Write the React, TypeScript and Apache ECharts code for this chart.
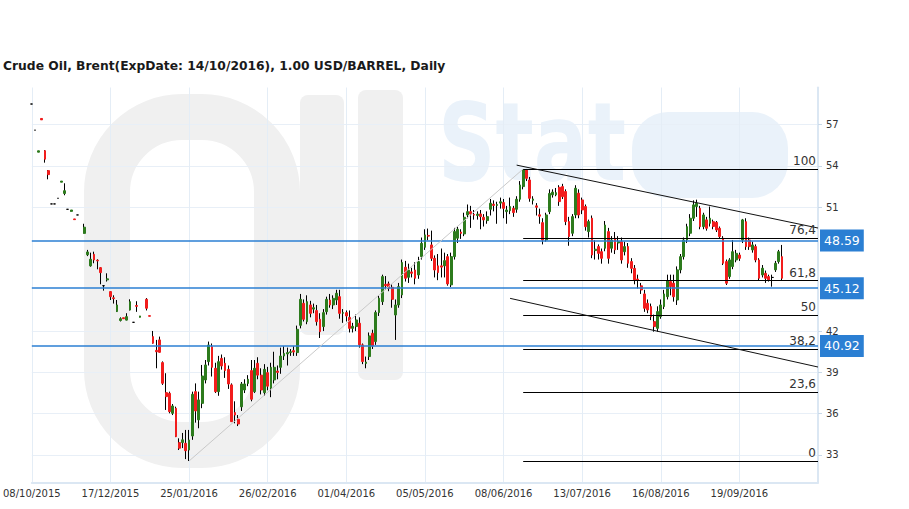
import React, { useEffect, useRef } from 'react';
import * as echarts from 'echarts';

const TITLE = 'Crude Oil, Brent(ExpDate: 14/10/2016), 1.00 USD/BARREL, Daily';
const TICK_LABELS = ['08/10/2015', '17/12/2015', '25/01/2016', '26/02/2016', '01/04/2016', '05/05/2016', '08/06/2016', '13/07/2016', '16/08/2016', '19/09/2016'];
const LABEL_EVERY = 24;
const SLOT_COUNT = 241;
// 45 and 48 sit under the level tags in the reference, so they are not shown
const Y_LABELS = [33, 36, 39, 42, 51, 54, 57];

// [open, close, low, high]; null = no trade that day
const CANDLES: ([number, number, number, number] | null)[] = [
  [58.5, 58.5, 58.5, 58.5], [56.6, 56.6, 56.6, 56.6], [55.0, 55.1, 55.0, 55.1], [57.45, 57.35, 57.35, 57.45], [55.11, 54.49, 54.24, 55.15],
  [53.66, 53.37, 53.03, 53.7], [51.24, 51.24, 51.24, 51.24], [51.24, 51.24, 51.24, 51.24], [51.65, 51.65, 51.65, 51.65], [52.82, 52.9, 52.82, 52.9],
  // 10
  [52.0, 52.2, 51.87, 52.74], [50.85, 50.85, 50.85, 50.85], [50.7, 50.8, 50.7, 50.8], [50.15, 50.1, 50.1, 50.15], [50.44, 50.44, 50.44, 50.44],
  null, [49.1, 49.55, 49.1, 49.8], [47.55, 47.75, 47.45, 47.9], [46.74, 47.22, 46.68, 47.7], [47.58, 47.17, 46.93, 47.77],
  // 20
  [47.15, 47.1, 46.49, 47.22], [46.61, 46.25, 45.4, 46.65], [45.3, 45.3, 44.94, 45.35], [45.72, 45.8, 45.6, 46.2], [44.87, 44.5, 44.26, 44.9],
  [44.42, 44.36, 44.0, 44.6], [43.42, 43.9, 43.4, 44.26], [42.77, 42.9, 42.7, 43.0], [42.97, 42.9, 42.88, 42.97], [42.8, 43.05, 42.78, 43.3],
  // 30
  [43.53, 44.14, 43.5, 44.31], [42.64, 42.64, 42.64, 42.64], [43.86, 43.8, 43.4, 44.17], [43.0, 43.1, 43.0, 43.1], null,
  [44.31, 43.66, 43.5, 44.4], [43.12, 43.08, 43.08, 43.12], [41.6, 41.12, 41.09, 42.01], [40.6, 40.5, 39.3, 41.36], [41.36, 40.46, 40.44, 41.6],
  // 40
  [39.71, 38.21, 38.09, 39.8], [37.53, 37.24, 36.27, 38.94], [37.48, 36.15, 36.03, 37.6], [36.03, 36.56, 35.9, 36.7], [36.39, 34.33, 34.3, 36.51],
  [33.9, 33.49, 33.36, 34.21], [33.9, 34.1, 33.5, 34.6], [33.85, 33.31, 32.7, 34.82], [33.36, 34.09, 32.56, 34.82], [34.38, 37.41, 34.1, 37.6],
  // 50
  [37.6, 36.2, 35.35, 38.2], [35.55, 37.0, 34.94, 37.6], [36.75, 38.74, 36.4, 39.54], [38.45, 39.54, 38.2, 39.9], [39.78, 40.99, 39.5, 41.24],
  [40.87, 39.37, 38.7, 41.1], [39.3, 37.6, 37.5, 39.7], [37.6, 39.78, 37.3, 40.2], [40.02, 39.47, 39.2, 40.3], [39.66, 39.13, 38.6, 40.1],
  // 60
  [39.22, 38.16, 37.8, 39.5], [38.09, 35.42, 35.4, 38.2], [36.08, 35.9, 35.3, 36.9], [35.6, 35.25, 35.1, 35.9], [36.5, 38.16, 36.2, 38.3],
  [37.72, 38.16, 37.5, 38.5], [38.2, 38.5, 38.0, 38.8], [39.13, 37.05, 36.9, 39.9], [37.6, 39.3, 37.5, 39.9], [39.66, 38.8, 38.5, 40.1],
  // 70
  [38.8, 37.72, 37.4, 39.3], [37.53, 39.22, 37.3, 39.6], [38.98, 38.0, 37.7, 39.4], [37.84, 39.37, 37.2, 39.7], [38.45, 39.37, 38.2, 40.5],
  [39.1, 39.0, 38.5, 39.5], [39.37, 40.19, 38.9, 40.8], [40.19, 40.38, 39.9, 40.9], [40.34, 40.44, 39.5, 40.8], [40.45, 40.5, 40.2, 40.7],
  // 80
  [40.58, 40.48, 40.2, 40.9], [40.44, 42.13, 40.2, 42.4], [42.42, 44.31, 42.2, 44.7], [44.02, 42.86, 42.7, 44.3], [42.69, 44.14, 42.5, 44.6],
  [43.9, 43.29, 43.0, 44.2], [43.6, 43.7, 43.3, 44.0], [43.49, 42.69, 42.4, 43.9], [42.86, 41.96, 41.5, 43.3], [42.33, 43.34, 42.0, 43.6],
  // 90
  [43.41, 44.31, 43.2, 44.5], [44.26, 43.9, 43.7, 44.7], [43.9, 44.38, 43.6, 44.6], [44.26, 44.75, 43.9, 45.0], [44.5, 43.29, 42.9, 45.0],
  [43.3, 43.34, 42.6, 43.6], [43.34, 43.1, 42.7, 43.5], [43.0, 42.2, 41.9, 43.5], [42.2, 42.35, 41.9, 42.6], [42.33, 42.81, 42.0, 43.2],
  // 100
  [42.57, 41.0, 40.8, 43.0], [41.0, 39.79, 39.6, 41.1], [39.65, 39.75, 39.3, 40.15], [40.15, 41.65, 39.9, 41.9], [41.84, 40.92, 40.7, 42.1],
  [41.24, 43.35, 41.0, 43.5], [43.35, 44.39, 43.1, 44.6], [44.14, 45.96, 43.9, 46.1], [45.4, 45.3, 45.0, 46.0], [45.43, 45.11, 44.9, 45.6],
  // 110
  [45.18, 44.31, 43.7, 45.4], [43.17, 43.9, 41.36, 44.3], [43.9, 45.23, 43.7, 45.5], [44.63, 46.98, 44.4, 47.2], [46.64, 45.84, 45.6, 47.1],
  [45.91, 46.44, 45.5, 46.9], [46.3, 46.2, 45.9, 46.6], [46.44, 45.84, 45.4, 47.0], [46.08, 47.05, 45.8, 47.4], [47.41, 48.38, 47.2, 48.8],
  // 120
  [48.09, 48.99, 47.9, 49.4], [48.95, 48.9, 48.6, 49.45], [48.26, 47.29, 47.1, 49.3], [47.29, 46.44, 45.9, 47.5], [46.74, 46.25, 45.7, 47.6],
  [46.74, 46.65, 45.9, 48.0], [46.74, 47.12, 45.9, 47.7], [47.41, 45.43, 45.3, 47.6], [45.36, 47.41, 45.2, 47.7], [47.41, 49.23, 47.2, 49.5],
  // 130
  [48.75, 49.4, 48.4, 49.6], [49.2, 49.1, 48.7, 49.4], [49.06, 50.27, 48.9, 50.6], [50.44, 50.68, 50.2, 51.2], [50.68, 50.51, 49.5, 51.1],
  [50.47, 50.43, 50.1, 50.8], [50.4, 50.5, 50.1, 50.7], [50.51, 50.32, 49.4, 50.8], [50.27, 50.08, 49.6, 50.5], [50.03, 50.32, 49.8, 50.7],
  // 140
  [50.85, 51.29, 50.4, 51.6], [51.22, 51.13, 50.7, 51.5], [51.13, 51.2, 49.8, 51.4], [51.3, 51.4, 50.9, 51.7], [51.34, 50.92, 50.2, 51.6],
  [50.68, 50.8, 49.8, 51.1], [50.75, 51.05, 50.5, 51.7], [50.92, 50.61, 50.3, 51.1], [50.85, 51.58, 50.6, 51.8], [51.58, 52.62, 51.4, 52.9],
  // 150
  [52.5, 53.71, 52.3, 53.75], [53.7, 53.1, 52.9, 53.78], [52.98, 51.65, 51.4, 53.2], [51.5, 51.6, 51.2, 51.8], [51.1, 51.0, 50.4, 51.3],
  [50.45, 50.35, 49.8, 50.9], [49.88, 48.62, 48.3, 50.2], [48.62, 50.44, 48.5, 50.6], [50.68, 52.0, 50.5, 52.3], [51.9, 52.1, 51.7, 52.3],
  // 160
  [51.9, 52.06, 51.8, 52.4], [52.45, 51.41, 51.1, 52.6], [52.5, 51.77, 51.6, 52.7], [52.14, 49.96, 49.7, 52.3], [49.96, 48.87, 48.2, 50.3],
  [49.11, 50.32, 48.9, 50.5], [50.44, 52.38, 50.2, 52.6], [52.02, 50.44, 50.2, 52.3], [51.53, 50.8, 50.5, 51.7], [51.05, 49.59, 49.3, 51.2],
  // 170
  [49.23, 49.96, 48.8, 50.1], [50.2, 47.53, 47.3, 50.4], [47.85, 47.95, 47.2, 48.6], [48.14, 47.65, 47.2, 48.3], [47.77, 47.29, 46.9, 48.0],
  [48.02, 49.71, 47.8, 50.0], [49.23, 47.29, 46.9, 49.5], [48.02, 48.62, 47.7, 48.9], [48.75, 47.9, 47.6, 49.2], [48.4, 48.5, 47.9, 48.9],
  // 180
  [48.5, 47.17, 46.9, 48.8], [47.77, 48.14, 47.5, 48.5], [48.14, 46.93, 46.6, 48.4], [47.05, 46.56, 46.2, 47.3], [46.56, 45.72, 45.4, 46.8],
  [45.78, 45.68, 45.1, 46.1], [45.29, 44.99, 44.7, 45.5], [44.7, 43.66, 43.4, 45.0], [44.02, 43.54, 43.3, 44.3], [43.78, 43.05, 42.8, 44.0],
  // 190
  [42.69, 42.33, 41.96, 43.2], [42.2, 43.42, 41.96, 43.8], [43.05, 43.9, 42.9, 44.3], [43.78, 44.7, 43.6, 45.0], [44.5, 45.67, 44.3, 46.1],
  [45.6, 45.23, 44.6, 46.1], [45.48, 44.5, 44.14, 46.1], [44.26, 46.45, 43.9, 46.7], [46.45, 47.41, 46.2, 47.6], [47.41, 48.62, 47.2, 48.8],
  // 200
  [48.62, 49.59, 48.4, 49.8], [49.11, 50.2, 48.9, 50.5], [50.2, 51.17, 50.0, 51.5], [51.05, 51.29, 50.3, 51.55], [50.92, 49.59, 49.4, 51.1],
  [49.59, 50.44, 49.4, 50.6], [50.08, 49.47, 49.3, 50.3], [49.83, 50.2, 49.6, 51.05], [49.95, 49.6, 49.4, 50.1], [49.9, 49.35, 49.2, 50.0],
  // 210
  [49.47, 48.87, 48.7, 49.6], [48.75, 46.93, 46.8, 48.9], [47.05, 45.48, 45.35, 47.2], [45.96, 47.17, 45.8, 47.3], [46.69, 47.77, 46.5, 48.62],
  [47.17, 47.65, 47.0, 47.9], [47.53, 47.29, 47.1, 47.7], [48.62, 50.08, 48.4, 50.15], [49.95, 48.14, 47.9, 50.2], [48.62, 48.14, 47.9, 48.8],
  // 220
  [47.9, 48.26, 47.7, 48.5], [48.14, 47.17, 47.0, 48.3], [47.17, 45.84, 45.7, 47.3], [46.08, 46.57, 45.9, 46.8], [46.2, 45.84, 45.5, 46.4],
  [45.96, 45.72, 45.6, 46.1], [45.9, 45.9, 45.23, 46.1], [46.45, 46.93, 46.3, 47.1], [47.05, 47.77, 46.9, 47.9], [47.41, 45.84, 45.7, 48.26],
];

const H_LEVELS = [48.59, 45.12, 40.92];
const FIB_HIGH = 53.78;
const FIB_LOW = 32.56;
const FIB_RATIOS = [100, 76.4, 61.8, 50, 38.2, 23.6, 0];
const FIB_START = 150;
const FIB_END = 240;
const SWING_LOW_INDEX = 48;
const CHANNEL_TOP: [number, number][] = [[148, 54.06], [240, 49.49]];
const CHANNEL_BOTTOM: [number, number][] = [[146, 44.38], [240, 39.39]];

const UP = '#2d7b1d';
const DOWN = '#f21d1d';
const BLUE = '#2b7fd3';
const FONT = 'DejaVu Sans';

export default function App() {
  const ref = useRef<HTMLDivElement>(null);

  useEffect(() => {
    const el = ref.current;
    if (!el) return;
    const chart = echarts.init(el, null, { renderer: 'svg' });
    const categories = Array.from({ length: SLOT_COUNT }, (_, i) => String(i));
    const empty = ['-', '-', '-', '-'];
    const wickData = CANDLES.map((c) => (c ? [c[0], c[1], c[2], c[3]] : empty));
    const bodyData = CANDLES.map((c) =>
      c ? [c[0], c[1], Math.min(c[0], c[1]), Math.max(c[0], c[1])] : empty
    );

    const blueLines = H_LEVELS.map((v) => ({
      yAxis: v,
      lineStyle: { color: BLUE, width: 1.5, type: 'solid' },
      label: {
        show: true,
        position: 'end',
        distance: 2,
        formatter: v.toFixed(2),
        backgroundColor: BLUE,
        color: '#fff',
        fontFamily: FONT,
        fontSize: 12.5,
        lineHeight: 14,
        padding: [4, 4, 4, 4],
      },
    }));

    const fibLines = FIB_RATIOS.map((r) => {
      const v = FIB_LOW + ((FIB_HIGH - FIB_LOW) * r) / 100;
      return [
        {
          coord: [FIB_START, v],
          lineStyle: { color: '#000', width: 1, type: 'solid' },
          label: {
            show: true,
            position: 'insideEndTop',
            distance: [2, 2],
            formatter: String(r).replace('.', ','),
            color: '#333',
            fontFamily: FONT,
            fontSize: 12,
          },
        },
        { coord: [FIB_END, v] },
      ];
    });

    const trendLines = [CHANNEL_TOP, CHANNEL_BOTTOM].map((pts) => [
      { coord: pts[0], lineStyle: { color: '#111', width: 1, type: 'solid' }, label: { show: false } },
      { coord: pts[1] },
    ]);
    const swingLine = [
      { coord: [SWING_LOW_INDEX, FIB_LOW], lineStyle: { color: '#c9c9c9', width: 1, type: 'solid' }, label: { show: false } },
      { coord: [FIB_START, FIB_HIGH] },
    ];

    const wm = '#f0f0f0';
    const wmBlue = '#eaf2fa';

    chart.setOption({
      animation: false,
      backgroundColor: '#fff',
      title: {
        text: TITLE,
        left: 3,
        top: 60,
        padding: 0,
        textStyle: { fontFamily: FONT, fontSize: 12.3, fontWeight: 'bold', color: '#1a1a1a' },
      },
      graphic: [
        { type: 'rect', z: -10, shape: { x: 107, y: 117, width: 170, height: 328, r: 75 }, style: { fill: 'none', stroke: wm, lineWidth: 46 } },
        { type: 'rect', z: -10, shape: { x: 300, y: 95, width: 44, height: 240, r: 8 }, style: { fill: wm } },
        { type: 'rect', z: -10, shape: { x: 358, y: 90, width: 45, height: 290, r: 8 }, style: { fill: wm } },
        { type: 'text', z: -10, x: 438, y: 88, scaleY: 1.35, style: { text: 'Stat', fill: wmBlue, font: 'bold 80px "DejaVu Sans"' } },
        { type: 'rect', z: -10, shape: { x: 632, y: 112, width: 156, height: 86, r: 36 }, style: { fill: wmBlue } },
      ],
      grid: { left: 31, right: 91, top: 87.5, bottom: 26.5, containLabel: false },
      xAxis: {
        type: 'category',
        data: categories,
        boundaryGap: false,
        axisLine: { show: true, lineStyle: { color: '#dbe7f3', width: 2 } },
        axisTick: { show: false },
        axisLabel: {
          interval: LABEL_EVERY - 1,
          margin: 6,
          color: '#333',
          fontFamily: FONT,
          fontSize: 10,
          formatter: (_v: string, idx: number) => TICK_LABELS[idx / LABEL_EVERY] ?? '',
        },
        splitLine: { show: true, interval: LABEL_EVERY - 1, lineStyle: { color: '#e4edf6', width: 1 } },
      },
      yAxis: {
        type: 'value',
        position: 'right',
        min: 31,
        max: 59.7,
        interval: 3,
        axisLine: { show: true, lineStyle: { color: '#dbe7f3', width: 2 } },
        axisTick: { show: true, customValues: Y_LABELS, length: 4, lineStyle: { color: '#c9d9e9' } },
        axisLabel: { customValues: Y_LABELS, margin: 8, color: '#333', fontFamily: FONT, fontSize: 10 },
        splitLine: { show: true, lineStyle: { color: '#e8eff7', width: 1 } },
      },
      series: [
        {
          type: 'candlestick',
          name: 'wick',
          data: wickData,
          barWidth: 1,
          clip: false,
          z: 3,
          itemStyle: {
            color: '#000',
            color0: '#000',
            borderColor: '#000',
            borderColor0: '#000',
            borderColorDoji: '#000',
            borderWidth: 1,
          },
          markLine: {
            symbol: ['none', 'none'],
            silent: true,
            animation: false,
            data: [...blueLines, ...fibLines, ...trendLines, swingLine],
          },
        },
        {
          type: 'candlestick',
          name: 'body',
          data: bodyData,
          barWidth: 2.3,
          clip: false,
          z: 4,
          itemStyle: {
            color: UP,
            color0: DOWN,
            borderColor: UP,
            borderColor0: DOWN,
            borderColorDoji: '#000',
            borderWidth: 1,
          },
        },
      ],
    });

    return () => chart.dispose();
  }, []);

  return <div ref={ref} style={{ position: 'absolute', left: 0, top: 0, width: 909, height: 509 }} />;
}
